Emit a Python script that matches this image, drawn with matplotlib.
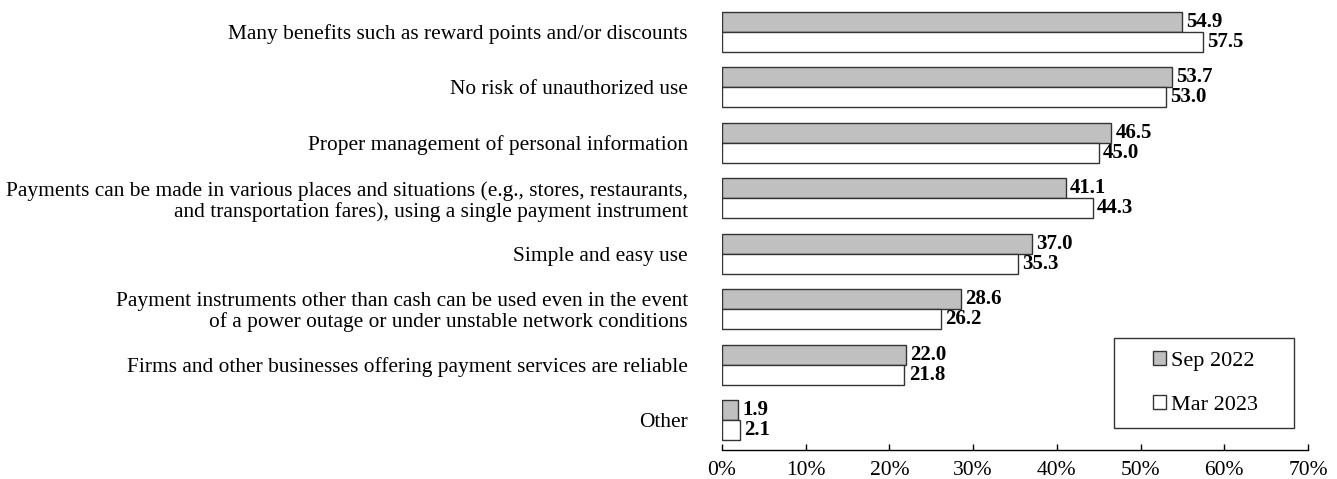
import matplotlib
matplotlib.use("Agg")
import matplotlib.pyplot as plt
from matplotlib.patches import Rectangle
import numpy as np

categories = [
    "Many benefits such as reward points and/or discounts",
    "No risk of unauthorized use",
    "Proper management of personal information",
    "Payments can be made in various places and situations (e.g., stores, restaurants,\nand transportation fares), using a single payment instrument",
    "Simple and easy use",
    "Payment instruments other than cash can be used even in the event\nof a power outage or under unstable network conditions",
    "Firms and other businesses offering payment services are reliable",
    "Other",
]
sep2022 = [54.9, 53.7, 46.5, 41.1, 37.0, 28.6, 22.0, 1.9]
mar2023 = [57.5, 53.0, 45.0, 44.3, 35.3, 26.2, 21.8, 2.1]
series_names = ["Sep 2022", "Mar 2023"]
xticks = [0, 10, 20, 30, 40, 50, 60, 70]

plt.rcParams['font.family'] = ['Liberation Serif', 'DejaVu Serif']

W, H = 1337, 479
fig = plt.figure(figsize=(W/100, H/100), dpi=100)
ax_l, ax_r, ax_b = 722, 1308, 450
ax = fig.add_axes([ax_l/W, 1-ax_b/H, (ax_r-ax_l)/W, ax_b/H])

y = np.arange(len(categories))
h = 0.36
b1 = ax.barh(y - h/2, sep2022, height=h, color='#c0c0c0', edgecolor='#333333', linewidth=1, label=series_names[0])
b2 = ax.barh(y + h/2, mar2023, height=h, color='white', edgecolor='#333333', linewidth=1, label=series_names[1])

for bars, vals in ((b1, sep2022), (b2, mar2023)):
    for bar, v in zip(bars, vals):
        ax.annotate(f"{v:.1f}", (v, bar.get_y() + bar.get_height()/2), xytext=(3, 0),
                    textcoords='offset points', va='center', ha='left', fontsize=15, fontweight='bold')

ax.set_xlim(0, 70)
ax.set_ylim(7.54, -0.577)
ax.set_xticks(xticks)
ax.set_xticklabels([f"{t}%" for t in xticks], fontsize=15.5)
ax.set_yticks(y)
ax.set_yticklabels(categories, fontsize=15.4, ha='right', multialignment='right', linespacing=1.08)
ax.tick_params(axis='y', length=0, pad=24.5)
ax.tick_params(axis='x', direction='in', length=4, width=1, pad=8)
for s in ('top', 'right', 'left'):
    ax.spines[s].set_visible(False)
ax.spines['bottom'].set_linewidth(1)

# legend box (pixel coords of the frame)
bx0, bx1, by0, by1 = 1114, 1294, 338, 428
fig.add_artist(Rectangle((bx0/W, 1-by1/H), (bx1-bx0)/W, (by1-by0)/H, transform=fig.transFigure,
                         facecolor='white', edgecolor='#333333', linewidth=1, zorder=5))
leg = fig.legend(handles=[b1, b2], labels=series_names, loc='center',
                 bbox_to_anchor=((bx0+bx1)/2/W + 0.001, 1-(by0+by1)/2/H),
                 fontsize=16, frameon=False,
                 handlelength=0.6, handleheight=0.6, handletextpad=0.2, labelspacing=1.1,
                 borderpad=0, borderaxespad=0)
leg.set_zorder(6)

fig.savefig("out.png", dpi=100)
